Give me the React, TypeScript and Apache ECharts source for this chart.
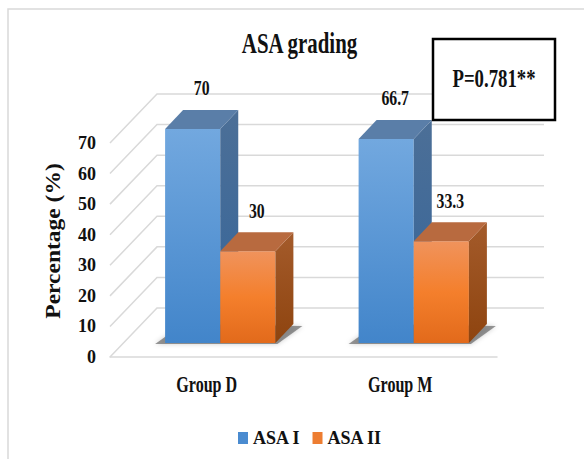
import React, { useEffect, useRef } from "react";
import * as echarts from "echarts";

// ---- data ----
const categories = ["Group D", "Group M"];
const seriesNames = ["ASA I", "ASA II"];
const asaI = [70, 66.7];
const asaII = [30, 33.3];
const yTicks = [0, 10, 20, 30, 40, 50, 60, 70];
const titleText = "ASA grading";
const pText = "P=0.781**";
const yName = "Percentage (%)";

// ---- style / geometry ----
const FONT = "Liberation Serif";
const WALL_DX = 47;
const WALL_DY = 49;
const BAR_OX = 13.5;
const BAR_OY = 14;
const DEPTH_DX = 18;
const DEPTH_DY = 19;

const palettes = [
  {
    front: [
      { offset: 0, color: "#72a8df" },
      { offset: 1, color: "#4285ca" },
    ],
    top: "#5a7ea8",
    side: [
      { offset: 0, color: "#4c6f97" },
      { offset: 1, color: "#35659a" },
    ],
    legend: "#4a8bd0",
  },
  {
    front: [
      { offset: 0, color: "#f0935c" },
      { offset: 0.5, color: "#f47f2c" },
      { offset: 1, color: "#e26a1b" },
    ],
    top: "#b86a3f",
    side: [
      { offset: 0, color: "#a45b2b" },
      { offset: 1, color: "#8e440f" },
    ],
    legend: "#ed7d31",
  },
];

const lin = (stops: any[]) => ({ type: "linear", x: 0, y: 0, x2: 0, y2: 1, colorStops: stops });

const makeBarRender = (s: number) => (params: any, api: any) => {
  const i = api.value(0);
  const v = api.value(1);
  const base = api.coord([i, 0]);
  const top = api.coord([i, v]);
  const band = api.size([1, 0])[0];
  const bw = band * 0.285;
  const x0 = base[0] + BAR_OX + (s - 1) * bw;
  const x1 = x0 + bw;
  const yb = base[1] - BAR_OY;
  const yt = top[1] - BAR_OY;
  const p = palettes[s];
  const children: any[] = [];
  if (s === 0) {
    const xL = x0;
    const xR = x0 + 2 * bw;
    children.push({
      type: "polygon",
      shape: {
        points: [
          [xL - 10, yb + 1],
          [xR + 2, yb + 1],
          [xR + DEPTH_DX + 9, yb - DEPTH_DY + 2],
          [xL + DEPTH_DX, yb - DEPTH_DY],
        ],
      },
      style: {
        fill: "rgba(70,70,70,0.55)",
        shadowBlur: 5,
        shadowColor: "rgba(0,0,0,0.35)",
      },
    });
  }
  children.push({
    type: "rect",
    shape: { x: x0, y: yt, width: bw, height: yb - yt },
    style: { fill: lin(p.front) },
  });
  children.push({
    type: "polygon",
    shape: {
      points: [
        [x1, yt],
        [x1 + DEPTH_DX, yt - DEPTH_DY],
        [x1 + DEPTH_DX, yb - DEPTH_DY],
        [x1, yb],
      ],
    },
    style: { fill: lin(p.side) },
  });
  children.push({
    type: "polygon",
    shape: {
      points: [
        [x0, yt],
        [x1, yt],
        [x1 + DEPTH_DX, yt - DEPTH_DY],
        [x0 + DEPTH_DX, yt - DEPTH_DY],
      ],
    },
    style: { fill: p.top },
  });
  children.push({
    type: "text",
    x: x0 + bw / 2 + DEPTH_DX / 2,
    y: yt - DEPTH_DY - 22,
    scaleX: 0.75,
    style: {
      text: String(v),
      fontSize: 21,
      fontWeight: "bold",
      fontFamily: FONT,
      fill: "#111",
      align: "center",
      verticalAlign: "middle",
    },
  });
  return { type: "group", children };
};

export default function App() {
  const ref = useRef<HTMLDivElement>(null);
  useEffect(() => {
    if (!ref.current) return;
    const chart = echarts.init(ref.current, undefined, { renderer: "svg" });
    const option: any = {
      animation: false,
      backgroundColor: "#ffffff",
      grid: { left: 110, right: 87, top: 143, bottom: 102 },
      legend: {
        data: seriesNames,
        left: 233,
        top: 424,
        icon: "rect",
        itemWidth: 10,
        itemHeight: 12,
        itemGap: 12,
        selectedMode: false,
        textStyle: { fontSize: 18, fontFamily: FONT, fontWeight: "bold", color: "#111" },
      },
      xAxis: {
        type: "category",
        data: categories,
        boundaryGap: true,
        axisLine: { show: true, lineStyle: { color: "#d9d9d9", width: 1.5 } },
        axisTick: { show: false },
        axisLabel: { show: false },
        splitLine: { show: false },
      },
      yAxis: {
        type: "value",
        min: 0,
        max: 70,
        interval: 10,
        axisLine: { show: false },
        axisTick: { show: false },
        splitLine: { show: false },
        axisLabel: {
          margin: 14,
          fontSize: 18,
          fontFamily: FONT,
          fontWeight: "bold",
          color: "#111",
        },
      },
      series: [
        {
          type: "custom",
          name: "grid3d",
          clip: false,
          silent: true,
          data: yTicks.map((t) => [0, t]),
          renderItem: (params: any, api: any) => {
            const cs = params.coordSys;
            const y = api.coord([0, api.value(1)])[1];
            const x0 = cs.x;
            const x1 = cs.x + cs.width;
            return {
              type: "polyline",
              shape: {
                points: [
                  [x0, y],
                  [x0 + WALL_DX, y - WALL_DY],
                  [x1 + WALL_DX, y - WALL_DY],
                ],
              },
              style: { stroke: "#d9d9d9", lineWidth: 1.5, fill: null },
            };
          },
        },
        {
          type: "custom",
          name: seriesNames[0],
          clip: false,
          itemStyle: { color: palettes[0].legend },
          data: asaI.map((v, i) => [i, v]),
          renderItem: makeBarRender(0),
        },
        {
          type: "custom",
          name: seriesNames[1],
          clip: false,
          itemStyle: { color: palettes[1].legend },
          data: asaII.map((v, i) => [i, v]),
          renderItem: makeBarRender(1),
        },
        {
          type: "custom",
          name: "catLabels",
          clip: false,
          silent: true,
          data: categories.map((_, i) => [i, 0]),
          renderItem: (params: any, api: any) => {
            const p = api.coord([api.value(0), 0]);
            return {
              type: "text",
              x: p[0],
              y: p[1] + 27,
              scaleX: 0.67,
              style: {
                text: categories[params.dataIndex],
                fontSize: 24,
                fontWeight: "bold",
                fontFamily: FONT,
                fill: "#111",
                align: "center",
                verticalAlign: "middle",
              },
            };
          },
        },
      ],
      graphic: [
        {
          type: "rect",
          z: 0,
          silent: true,
          shape: { x: 8, y: 9, width: 640, height: 520 },
          style: { fill: "none", stroke: "#d9d9d9", lineWidth: 1.5 },
        },
        {
          type: "text",
          z: 50,
          x: 299.5,
          y: 43,
          scaleX: 0.72,
          style: {
            text: titleText,
            fontSize: 29,
            fontWeight: "bold",
            fontFamily: FONT,
            fill: "#111",
            align: "center",
            verticalAlign: "middle",
          },
        },
        {
          type: "text",
          z: 50,
          x: 54,
          y: 241,
          rotation: Math.PI / 2,
          scaleY: 0.85,
          style: {
            text: yName,
            fontSize: 23.5,
            fontWeight: "bold",
            fontFamily: FONT,
            fill: "#111",
            align: "center",
            verticalAlign: "middle",
          },
        },
        {
          type: "rect",
          z: 100,
          shape: { x: 433, y: 39, width: 122, height: 81 },
          style: { fill: "#ffffff", stroke: "#000000", lineWidth: 2.5 },
        },
        {
          type: "text",
          z: 101,
          x: 494,
          y: 79,
          scaleX: 0.75,
          style: {
            text: pText,
            fontSize: 25,
            fontWeight: "bold",
            fontFamily: FONT,
            fill: "#111",
            align: "center",
            verticalAlign: "middle",
          },
        },
      ],
    };
    chart.setOption(option);
    return () => chart.dispose();
  }, []);
  return (
    <div
      ref={ref}
      style={{ position: "fixed", left: 0, top: 0, width: 584, height: 459, background: "#fff" }}
    />
  );
}
